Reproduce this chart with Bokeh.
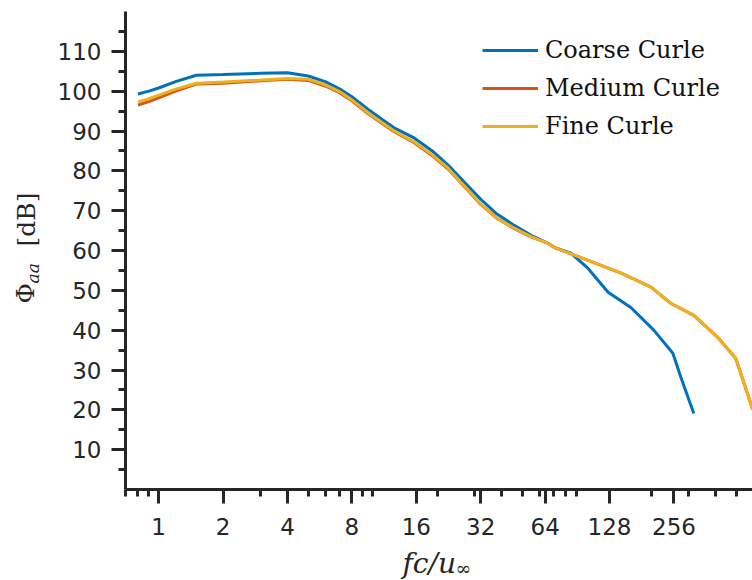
from bokeh.plotting import figure
from bokeh.models import FixedTicker, Legend, LegendItem, Label, Range1d
from bokeh.embed import file_html
from bokeh.resources import INLINE
import math

# Spectra of the far-field acoustic pressure for three grid resolutions
freq_coarse = [0.8, 0.9, 1.0, 1.2, 1.5, 2.0, 3.0, 4.0, 5.0, 6.0, 7.0, 8.0, 9.5, 11.0,
               12.6, 15.7, 19.0, 22.6, 27.0, 32.1, 38.0, 45.9, 55.0, 66.1, 70.5, 84.6,
               101.6, 126, 161, 206, 253, 276, 317]
phi_coarse = [99.3, 100.0, 100.8, 102.4, 104.0, 104.2, 104.5, 104.6, 103.8, 102.4,
              100.6, 98.6, 95.5, 93.0, 90.8, 88.2, 85.0, 81.4, 77.0, 72.8, 69.2, 66.3,
              63.8, 61.8, 60.8, 59.3, 55.5, 49.5, 45.7, 40.0, 34.2, 28.1, 19.1]

freq_medium = [0.8, 0.9, 1.0, 1.2, 1.5, 2.0, 3.0, 4.0, 5.0, 6.0, 7.0, 8.0, 9.5, 11.0,
               12.6, 15.7, 19.0, 22.6, 27.0, 32.1, 38.0, 45.9, 55.0, 66.1, 70.5, 101.6,
               145, 200, 248, 317, 410, 498, 598]
phi_medium = [96.5, 97.4, 98.3, 100.0, 101.8, 102.0, 102.6, 103.0, 102.7, 101.3, 99.6,
              97.6, 94.4, 92.0, 89.8, 87.0, 83.8, 80.4, 75.9, 71.5, 68.1, 65.5, 63.4,
              61.8, 60.8, 57.5, 54.3, 50.8, 46.7, 43.7, 38.2, 32.9, 20.0]

freq_fine = [0.8, 0.9, 1.0, 1.2, 1.5, 2.0, 3.0, 4.0, 5.0, 6.0, 7.0, 8.0, 9.5, 11.0,
             12.6, 15.7, 19.0, 22.6, 27.0, 32.1, 38.0, 45.9, 55.0, 66.1, 70.5, 101.6,
             145, 200, 248, 317, 410, 498, 598]
phi_fine = [97.3, 98.1, 99.0, 100.5, 102.0, 102.3, 102.8, 103.2, 103.0, 101.6, 99.9,
            97.8, 94.6, 92.2, 90.0, 87.2, 84.0, 80.6, 76.0, 71.6, 68.2, 65.6, 63.5,
            61.8, 60.8, 57.5, 54.3, 50.8, 46.7, 43.7, 38.2, 32.9, 20.0]

series_names = ["Coarse Curle", "Medium Curle", "Fine Curle"]
series_colors = ["#0072BD", "#D95319", "#EDB120"]

x_major = [1, 2, 4, 8, 16, 32, 64, 128, 256]
x_minor = [0.7, 0.8, 0.9, 3, 5, 6, 7, 9, 10, 20, 30, 40, 50, 60, 70, 80, 90,
           200, 300, 400, 500]
y_major = [10, 20, 30, 40, 50, 60, 70, 80, 90, 100, 110]
y_minor = [5, 15, 25, 35, 45, 55, 65, 75, 85, 95, 105, 115]

# axis extents (data) and where the axes sit on the canvas (pixels)
X_START, X_END = 0.70, 596.0
Y_START, Y_END = 0.0, 120.0
W, H = 752, 580
AX_LEFT, AX_RIGHT, AX_TOP, AX_BOTTOM = 125, 752, 11, 489

# the frame spans the whole canvas; the axes are pinned at fixed locations
oct_per_px = math.log2(X_END / X_START) / (AX_RIGHT - AX_LEFT)
x_lo = X_START * 2 ** (-AX_LEFT * oct_per_px)
x_hi = X_START * 2 ** ((W - AX_LEFT) * oct_per_px)
val_per_px = (Y_END - Y_START) / (AX_BOTTOM - AX_TOP)
y_lo = Y_START - (H - AX_BOTTOM) * val_per_px
y_hi = Y_END + AX_TOP * val_per_px

p = figure(width=W, height=H, x_axis_type="log",
           x_range=Range1d(x_lo, x_hi), y_range=Range1d(y_lo, y_hi),
           output_backend="svg", toolbar_location=None,
           min_border=0)
p.outline_line_color = None
p.grid.visible = False
p.background_fill_color = "white"
p.border_fill_color = "white"

axis_color = "#262626"
for ax in (p.xaxis[0], p.yaxis[0]):
    ax.axis_line_width = 3
    ax.axis_line_color = axis_color
    ax.major_tick_line_width = 3
    ax.major_tick_line_color = axis_color
    ax.minor_tick_line_width = 3
    ax.minor_tick_line_color = axis_color
    ax.major_tick_in = 0
    ax.major_tick_out = 14
    ax.minor_tick_in = 0
    ax.minor_tick_out = 7
    ax.major_label_text_font = "DejaVu Sans"
    ax.major_label_text_font_size = "23px"
    ax.major_label_text_color = axis_color
    ax.axis_label = None

xa, ya = p.xaxis[0], p.yaxis[0]
xa.ticker = FixedTicker(ticks=x_major, minor_ticks=x_minor)
xa.major_label_overrides = {t: str(t) for t in x_major}
xa.major_label_standoff = 14
xa.fixed_location = Y_START
xa.bounds = (X_START, X_END)
ya.ticker = FixedTicker(ticks=y_major, minor_ticks=y_minor)
ya.major_label_standoff = 10
ya.fixed_location = X_START
ya.bounds = (Y_START, Y_END)

renderers = []
for fx, fy, c in [(freq_coarse, phi_coarse, series_colors[0]),
                  (freq_medium, phi_medium, series_colors[1]),
                  (freq_fine, phi_fine, series_colors[2])]:
    renderers.append(p.line(fx, fy, line_color=c, line_width=3))

legend = Legend(items=[LegendItem(label=n, renderers=[r])
                       for n, r in zip(series_names, renderers)],
                location=(482, H - 141), orientation="vertical",
                glyph_width=56, glyph_height=30, label_height=30,
                label_standoff=7, spacing=8, padding=0, margin=0,
                border_line_color=None, background_fill_alpha=0,
                label_text_font="DejaVu Serif", label_text_font_size="24px",
                label_text_color="#111111")
p.add_layout(legend)

serif = "DejaVu Serif"
title_color = "#262626"

def title_piece(sx, sy, text, size, italic=False, angle=0.0):
    # sx, sy: canvas pixels from the top-left corner (vertical centre of the text)
    p.add_layout(Label(x=sx, y=H - sy, x_units="screen", y_units="screen",
                       text=text, text_font=serif, text_font_size=size,
                       text_font_style="italic" if italic else "normal",
                       text_color=title_color, angle=angle,
                       text_baseline="middle", text_align="left"))

# x title: fc/u with subscript infinity
title_piece(402, 563, "fc/u", "28px", italic=True)
title_piece(455, 567, "\u221e", "19px")
# y title: Phi with subscript aa, then [dB], rotated
rot = math.pi / 2
title_piece(25, 303, "\u03a6", "25px", angle=rot)
title_piece(32, 283, "aa", "17px", italic=True, angle=rot)
title_piece(26, 246, "[dB]", "25px", angle=rot)

open("out.html", "w").write(file_html(p, INLINE))
